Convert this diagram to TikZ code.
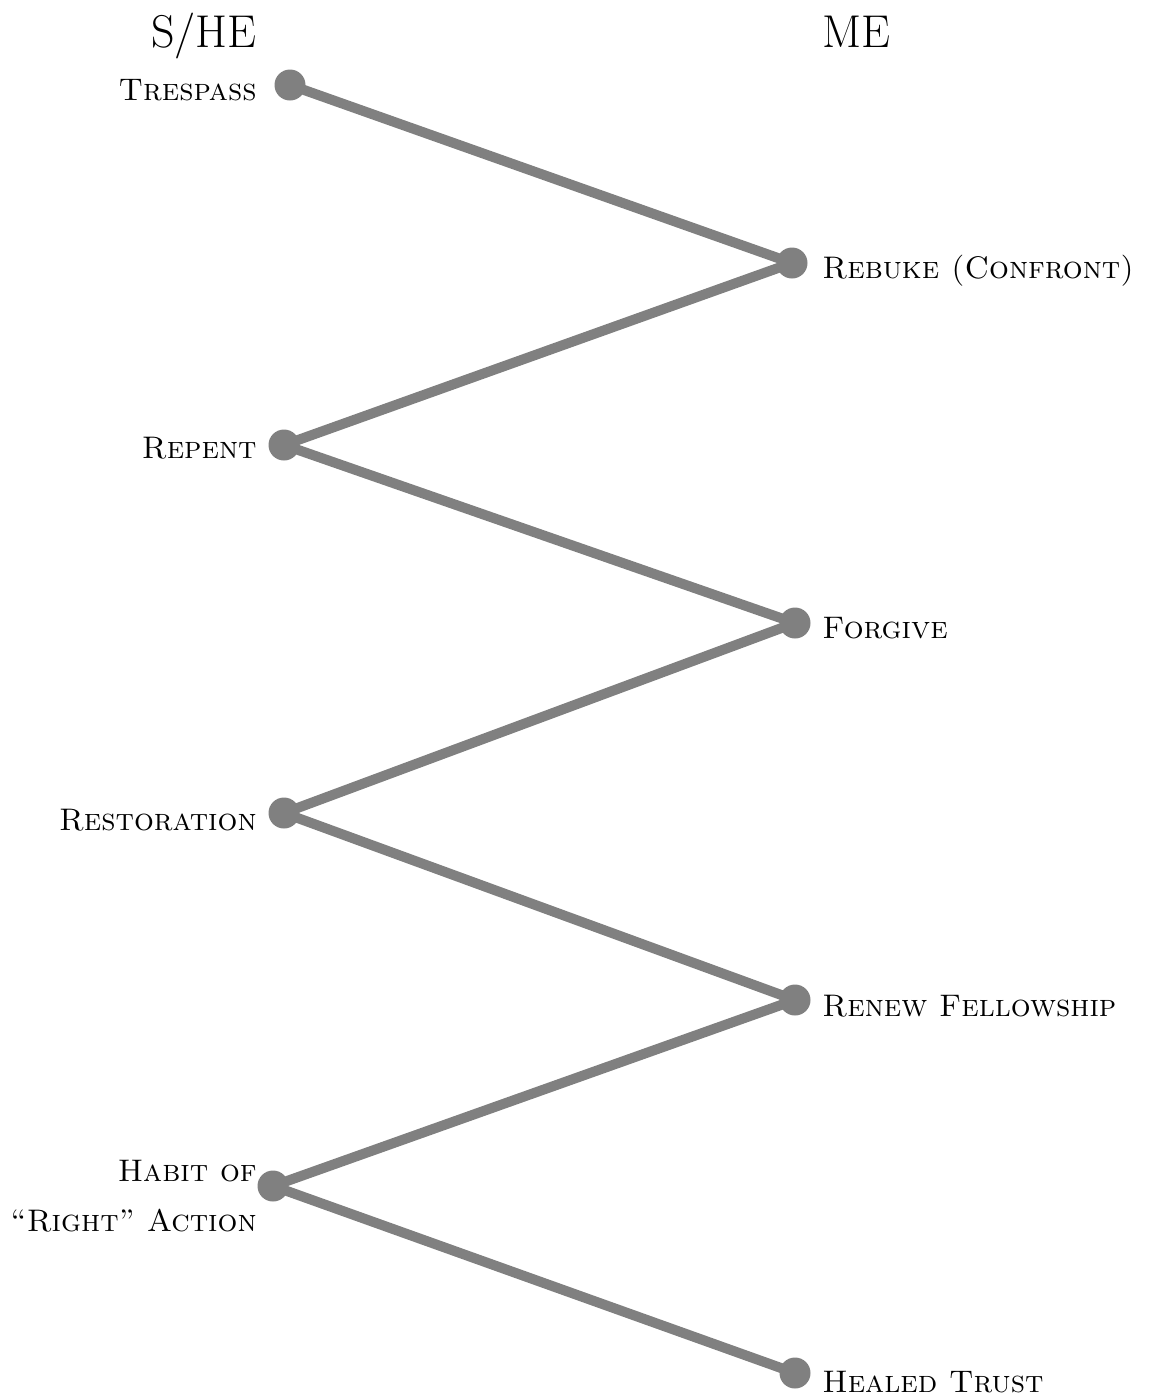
\documentclass[tikz,border=0pt]{standalone}
\usepackage{fontspec}
\usetikzlibrary{positioning}

\definecolor{stagegray}{RGB}{128,128,128}

\begin{document}
\begin{tikzpicture}[x=0.5pt, y=-0.5pt,
		stagedot/.style={circle, fill=stagegray, inner sep=0pt, minimum size=15.5pt},
		stageline/.style={draw=stagegray, line width=5pt},
		lbl/.style={inner sep=0pt, font=\fontsize{15.6}{25}\selectfont\scshape},
		head/.style={inner sep=0pt, font=\fontsize{23}{27}\selectfont}]
		\useasboundingbox (0, 0) rectangle (1148, 1399);
		
		\node[head, anchor=base east] (she) at (257, 47) {S/HE};
		\node[head, anchor=base west] (me) at (822, 47) {ME};
		
		\node[stagedot] (0) at (290, 85) {};
		\node[stagedot] (1) at (792, 263) {};
		\node[stagedot] (2) at (284, 445) {};
		\node[stagedot] (3) at (795, 623) {};
		\node[stagedot] (4) at (284, 813) {};
		\node[stagedot] (5) at (795, 1000) {};
		\node[stagedot] (6) at (273, 1186) {};
		\node[stagedot] (7) at (795, 1373) {};
		
		\node[lbl, anchor=base east] (t0) at (257, 100) {Trespass};
		\node[lbl, anchor=base west] (t1) at (822, 278) {Rebuke (Confront)};
		\node[lbl, anchor=base east] (t2) at (257, 458) {Repent};
		\node[lbl, anchor=base west] (t3) at (822, 638) {Forgive};
		\node[lbl, anchor=base east] (t4) at (257, 830) {Restoration};
		\node[lbl, anchor=base west] (t5) at (822, 1016) {Renew Fellowship};
		\node[lbl, anchor=east, align=right] (t6) at (257, 1196) {Habit of\\``Right'' Action};
		\node[lbl, anchor=base west] (t7) at (822, 1392) {Healed Trust};
		
		\draw[stageline] (0.center) -- (1.center) -- (2.center) -- (3.center)
			-- (4.center) -- (5.center) -- (6.center) -- (7.center);
\end{tikzpicture}
\end{document}
